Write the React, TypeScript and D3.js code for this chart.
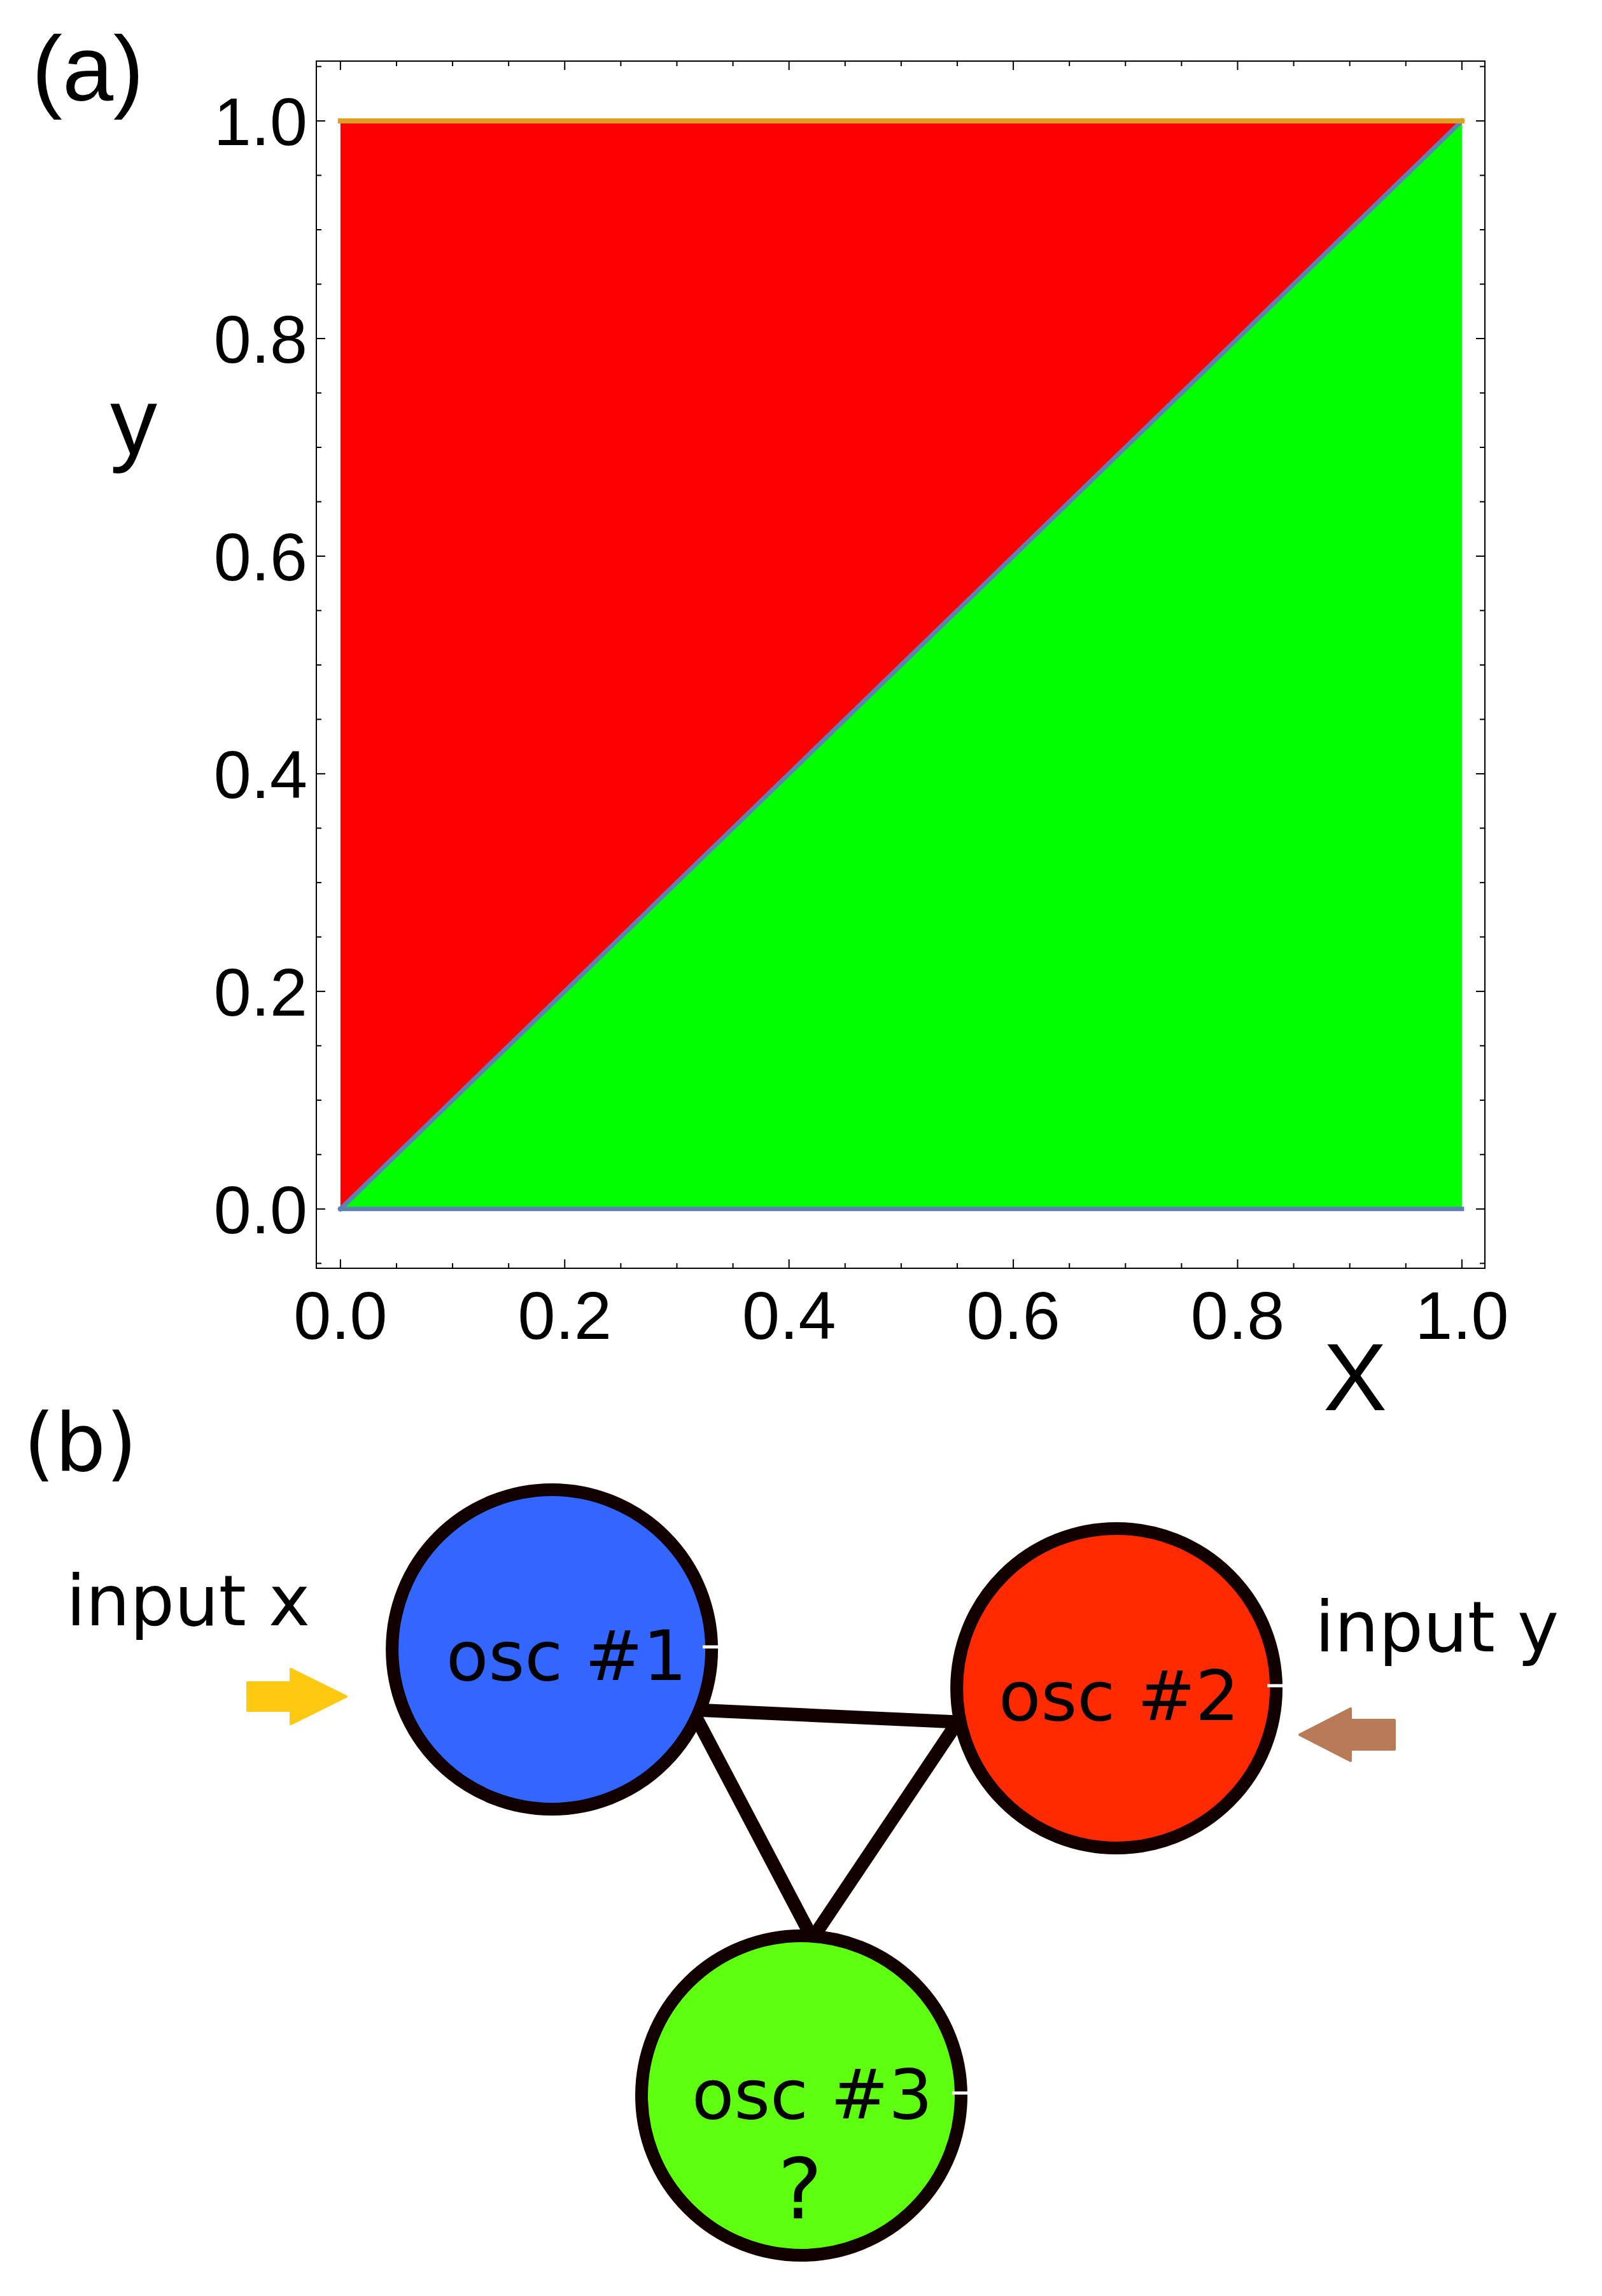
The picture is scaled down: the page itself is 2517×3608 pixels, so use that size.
import React from 'react';
import * as d3 from 'd3';

// ---- panel (a) data ----
const majorTicks = [0, 0.2, 0.4, 0.6, 0.8, 1.0];
const tickLabels = ['0.0', '0.2', '0.4', '0.6', '0.8', '1.0'];
const minorTicks = [-0.05, 0.05, 0.1, 0.15, 0.25, 0.3, 0.35, 0.45, 0.5, 0.55, 0.65, 0.7, 0.75, 0.85, 0.9, 0.95, 1.05];

// regions of the (x, y) input plane
const redRegion: [number, number][] = [[0, 0], [0, 1], [1, 1]];
const greenRegion: [number, number][] = [[0, 0], [1, 0], [1, 1]];
const blueBoundaries: [number, number][][] = [
  [[0, 0], [1, 1]],
  [[0, 0], [1, 0]],
];
const orangeBoundary: [number, number][] = [[0, 1], [1, 1]];

// ---- panel (b) data ----
const nodeNames = ['osc #1', 'osc #2', 'osc #3'];
const nodeColors = ['#3366ff', '#ff2a00', '#5fff10'];
const nodeX = [0.3445, 0.6969, 0.5002];
const nodeY = [0.2784, 0.3217, 0.7763];
const edges: [number, number][] = [[0, 1], [0, 2], [1, 2]];
const edgeAngles: [number, number][] = [[22, 168], [26, -87], [168, -85]];
const inputLabels = ['input x', 'input y'];

const W = 2517;
const H = 3608;

export default function App() {
  // frame of panel (a)
  const x = d3.scaleLinear().domain([-0.0215, 1.0205]).range([497, 2333]);
  const y = d3.scaleLinear().domain([-0.0545, 1.055]).range([1993, 96]);
  const [fx0, fx1] = x.range();
  const [fy0, fy1] = y.range();

  const area = d3.line<[number, number]>().x(d => x(d[0])).y(d => y(d[1]));

  // diagram scales for panel (b)
  const bx = d3.scaleLinear().domain([0, 1]).range([0, W]);
  const by = d3.scaleLinear().domain([0, 1]).range([2200, H]);
  const rOuter = 261;
  const sw = 20;
  const r = rOuter - sw / 2;

  const plotFont = '"Liberation Sans", Arial, sans-serif';
  const diagFont = '"DejaVu Sans", sans-serif';
  const major = 14;
  const minor = 8;

  const labelDx = [23, 4, 17];
  const labelDy = [48, 50, 36];

  const arrow = (tipX: number, tipY: number, dir: number, len: number, headLen: number, headHalf: number, shaftHalf: number) => {
    const p = d3.path();
    const bx0 = tipX - dir * headLen;
    const tail = tipX - dir * len;
    p.moveTo(tipX, tipY);
    p.lineTo(bx0, tipY - headHalf);
    p.lineTo(bx0, tipY - shaftHalf);
    p.lineTo(tail, tipY - shaftHalf);
    p.lineTo(tail, tipY + shaftHalf);
    p.lineTo(bx0, tipY + shaftHalf);
    p.lineTo(bx0, tipY + headHalf);
    p.closePath();
    return p.toString();
  };

  return (
    <div style={{ position: 'absolute', left: 0, top: 0 }}>
      <svg width={W} height={H} style={{ display: 'block', background: '#fff' }}>
        {/* ---------- panel (a) ---------- */}
        <text x={50} y={158} fontFamily={plotFont} fontSize={144}>(a)</text>

        <path d={area(redRegion) + 'Z'} fill="#ff0000" />
        <path d={area(greenRegion) + 'Z'} fill="#00ff00" />
        {blueBoundaries.map((seg, i) => (
          <path key={i} d={area(seg) ?? ''} fill="none" stroke="#5e81b5" strokeWidth={7} strokeLinecap="square" />
        ))}
        <path d={area(orangeBoundary) ?? ''} fill="none" stroke="#e19c24" strokeWidth={8} strokeLinecap="square" />

        {/* frame */}
        <rect x={fx0} y={fy1} width={fx1 - fx0} height={fy0 - fy1} fill="none" stroke="#000" strokeWidth={2} />
        <g stroke="#000" strokeWidth={2}>
          {majorTicks.map(t => (
            <g key={'M' + t}>
              <line x1={x(t)} x2={x(t)} y1={fy0} y2={fy0 - major} />
              <line x1={x(t)} x2={x(t)} y1={fy1} y2={fy1 + major} />
              <line x1={fx0} x2={fx0 + major} y1={y(t)} y2={y(t)} />
              <line x1={fx1} x2={fx1 - major} y1={y(t)} y2={y(t)} />
            </g>
          ))}
          {minorTicks.map(t => (
            <g key={'m' + t}>
              {x(t) > fx0 && x(t) < fx1 && (
                <>
                  <line x1={x(t)} x2={x(t)} y1={fy0} y2={fy0 - minor} />
                  <line x1={x(t)} x2={x(t)} y1={fy1} y2={fy1 + minor} />
                </>
              )}
              {y(t) < fy0 && y(t) > fy1 && (
                <>
                  <line x1={fx0} x2={fx0 + minor} y1={y(t)} y2={y(t)} />
                  <line x1={fx1} x2={fx1 - minor} y1={y(t)} y2={y(t)} />
                </>
              )}
            </g>
          ))}
        </g>

        {/* tick labels */}
        <g fontFamily={plotFont} fontSize={106} fill="#000">
          {majorTicks.map((t, i) => (
            <text key={'xl' + t} x={x(t)} y={2104} textAnchor="middle">{tickLabels[i]}</text>
          ))}
          {majorTicks.map((t, i) => (
            <text key={'yl' + t} x={fx0 - 14} y={y(t) + 38} textAnchor="end">{tickLabels[i]}</text>
          ))}
        </g>

        {/* axis labels */}
        <text x={2129} y={2216} textAnchor="middle" fontFamily={plotFont} fontSize={150}>X</text>
        <text x={210} y={713} textAnchor="middle" fontFamily={plotFont} fontSize={148}>y</text>

        {/* ---------- panel (b) ---------- */}
        <text x={37} y={2311} fontFamily={diagFont} fontSize={126}>(b)</text>

        {/* couplings */}
        <g stroke="#120000" strokeWidth={21}>
          {edges.map(([a, b], i) => {
            const [aa, ab] = edgeAngles[i].map(d => (d * Math.PI) / 180);
            return (
              <line
                key={i}
                x1={bx(nodeX[a]) + (rOuter - 6) * Math.cos(aa)}
                y1={by(nodeY[a]) + (rOuter - 6) * Math.sin(aa)}
                x2={bx(nodeX[b]) + (rOuter - 6) * Math.cos(ab)}
                y2={by(nodeY[b]) + (rOuter - 6) * Math.sin(ab)}
              />
            );
          })}
        </g>

        {/* oscillators */}
        {nodeNames.map((name, i) => {
          const cx = bx(nodeX[i]);
          const cy = by(nodeY[i]);
          return (
            <g key={name}>
              <circle cx={cx} cy={cy} r={r} fill={nodeColors[i]} stroke="#120000" strokeWidth={sw} />
              <line x1={cx + rOuter - 24} x2={cx + rOuter + 2} y1={cy - 4} y2={cy - 4} stroke="#fff" strokeWidth={5} />
              <text x={cx + labelDx[i]} y={cy + labelDy[i]} textAnchor="middle" fontFamily={diagFont} fontSize={109} fill="#000">
                {name}
              </text>
            </g>
          );
        })}
        <text x={bx(nodeX[2]) - 2} y={3486} textAnchor="middle" fontFamily={diagFont} fontSize={132} fill="#000">?</text>

        {/* inputs */}
        <text x={104} y={2554} fontFamily={diagFont} fontSize={110}>{inputLabels[0]}</text>
        <text x={2066} y={2595} fontFamily={diagFont} fontSize={110}>{inputLabels[1]}</text>
        <path d={arrow(544, 2666, 1, 155, 87, 43, 22)} fill="#ffc811" stroke="#ffc811" strokeWidth={4} strokeLinejoin="round" />
        <path d={arrow(2042, 2726, -1, 149, 80, 41, 23)} fill="#b97a57" stroke="#b97a57" strokeWidth={4} strokeLinejoin="round" />
      </svg>
    </div>
  );
}
